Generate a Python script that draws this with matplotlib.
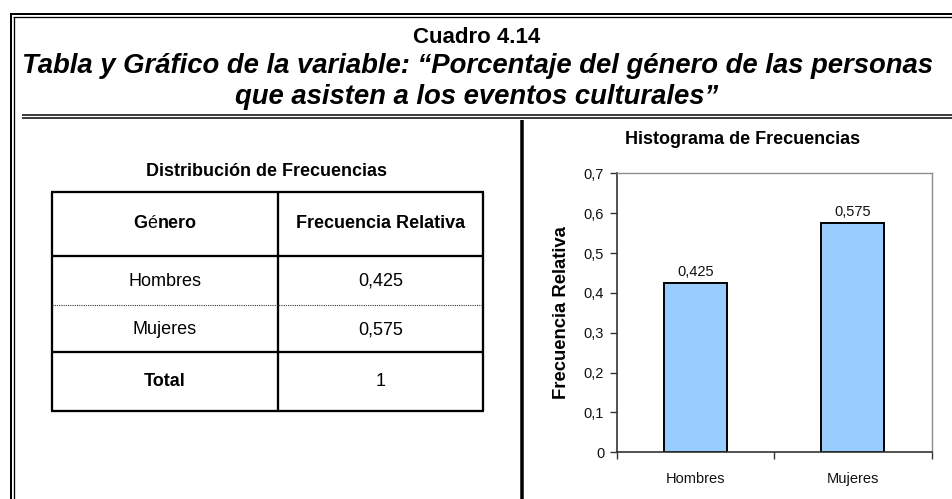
import matplotlib
matplotlib.use("Agg")
import matplotlib.pyplot as plt
from matplotlib.ticker import FuncFormatter, FixedLocator
from matplotlib.offsetbox import TextArea, HPacker, AnnotationBbox

# ---------------- data ----------------
categories = ["Hombres", "Mujeres"]
freq_rel = [0.425, 0.575]
total_label = "Total"
total_value = 1
yticks = [0, 0.1, 0.2, 0.3, 0.4, 0.5, 0.6, 0.7]

title1 = "Cuadro 4.14"
title2 = "Tabla y Gráfico de la variable: \u201cPorcentaje del género de las personas"
title3 = "que asisten a los eventos culturales\u201d"
table_title = "Distribución de Frecuencias"
col_headers = ["Género", "Frecuencia Relativa"]
chart_title = "Histograma de Frecuencias"
ylabel = "Frecuencia Relativa"


def comma(v):
    return f"{v:g}".replace(".", ",")


W, H = 952, 499
FONT = "Liberation Sans"
plt.rcParams["font.family"] = [FONT, "DejaVu Sans"]

fig = plt.figure(figsize=(W / 100, H / 100), dpi=100)
bg = fig.add_axes([0, 0, 1, 1])
bg.set_xlim(0, W)
bg.set_ylim(H, 0)
bg.axis("off")

PX = 0.72


def hline(y, x0, x1, w, **kw):
    bg.plot([x0, x1], [y, y], color=kw.pop("color", "black"), lw=w * PX,
            solid_capstyle="butt", **kw)


def vline(x, y0, y1, w, **kw):
    bg.plot([x, x], [y0, y1], color=kw.pop("color", "black"), lw=w * PX,
            solid_capstyle="butt", **kw)


# ---------------- outer frame ----------------
hline(14.3, 10.3, W, 2)
hline(17.3, 13.3, W, 1.3)
vline(11.2, 13.3, H, 2)
vline(13.8, 16.7, H, 1.3)
hline(115.0, 22, W, 1.5)
hline(117.5, 22, W, 1.5)
vline(521.8, 119.5, H, 3.5)

# ---------------- titles ----------------
bg.text(477, 37, title1, ha="center", va="center", fontsize=16,
        fontweight="bold")
bg.text(477, 66, title2, ha="center", va="center", fontsize=19.8,
        fontweight="bold", fontstyle="italic")
bg.text(477, 97, title3, ha="center", va="center", fontsize=19.8,
        fontweight="bold", fontstyle="italic")

# ---------------- table ----------------
TFS = 13
bg.text(267, 172, table_title, ha="center", va="center", fontsize=TFS,
        fontweight="bold")
xl, xm, xr = 51.7, 278.3, 483.3
yt, yh, yd, ym, yb = 191.7, 255.7, 305.0, 351.7, 410.7
LW = 2.3
hline(yt, xl - 1, xr + 1, LW)
hline(yb, xl - 1, xr + 1, LW)
hline(yh, xl, xr, LW)
hline(ym, xl, xr, LW)
vline(xl, yt, yb, LW)
vline(xr, yt, yb, LW)
vline(xm, yt, yb, LW)
bg.plot([xl, xr], [yd, yd], color="#333333", lw=0.8, linestyle=(0, (1, 1)))

c1 = (xl + xm) / 2
c2 = (xm + xr) / 2
# header "Género" (the é in the original is rendered non-bold)
hdr = col_headers[0]
parts = HPacker(children=[
    TextArea(hdr[0], textprops=dict(fontsize=TFS, fontweight="bold")),
    TextArea(hdr[1], textprops=dict(fontsize=TFS, fontweight="normal")),
    TextArea(hdr[2:], textprops=dict(fontsize=TFS, fontweight="bold")),
], sep=0, pad=0, align="baseline")
ab = AnnotationBbox(parts, (c1, 224), xycoords="data", frameon=False,
                    box_alignment=(0.5, 0.5), pad=0)
bg.add_artist(ab)
bg.text(c2, 224, col_headers[1], ha="center", va="center", fontsize=TFS,
        fontweight="bold")
row_y = [281, 330]
for cat, v, yy in zip(categories, freq_rel, row_y):
    bg.text(c1, yy, cat, ha="center", va="center", fontsize=TFS)
    bg.text(c2, yy, comma(v), ha="center", va="center", fontsize=TFS)
bg.text(c1, 381.7, total_label, ha="center", va="center", fontsize=TFS,
        fontweight="bold")
bg.text(c2, 381.7, comma(total_value), ha="center", va="center", fontsize=TFS)

# ---------------- chart ----------------
ax_l, ax_r, ax_t, ax_b = 616.7, 931.7, 173.3, 452.3
ax = fig.add_axes([ax_l / W, 1 - ax_b / H, (ax_r - ax_l) / W, (ax_b - ax_t) / H])
xpos = list(range(len(categories)))
bars = ax.bar(xpos, freq_rel, width=0.4, color="#99CCFF", edgecolor="black",
              linewidth=1.4)
ax.set_xlim(-0.5, len(categories) - 0.5)
ax.set_ylim(0, 0.7)
ax.yaxis.set_major_locator(FixedLocator(yticks))
ax.yaxis.set_major_formatter(FuncFormatter(lambda v, p: comma(round(v, 1))))
ax.set_xticks(xpos)
ax.set_xticklabels(categories)
ax.set_xticks([i - 0.5 for i in range(len(categories) + 1)], minor=True)
ax.tick_params(axis="x", which="major", length=0, pad=14, labelsize=10.5,
               labelcolor="#111111")
ax.tick_params(axis="x", which="minor", length=5, width=1, direction="out",
               color="#333333")
ax.tick_params(axis="y", length=5, width=1, direction="out", pad=4,
               labelsize=10.5, labelcolor="#111111", color="#333333")
for s in ("left", "bottom"):
    ax.spines[s].set_color("#333333")
    ax.spines[s].set_linewidth(1.2)
for s in ("top", "right"):
    ax.spines[s].set_color("#8c8c8c")
    ax.spines[s].set_linewidth(1.0)
for b, v in zip(bars, freq_rel):
    ax.annotate(comma(v), (b.get_x() + b.get_width() / 2, v),
                xytext=(0, 3), textcoords="offset points", ha="center",
                va="bottom", fontsize=10.5, color="#111111")

bg.text(743, 140, chart_title, ha="center", va="center", fontsize=13,
        fontweight="bold")
bg.text(561.7, 312.5, ylabel, ha="center", va="center", rotation=90,
        fontsize=13.3, fontweight="bold")

fig.savefig("out.png", dpi=100)
